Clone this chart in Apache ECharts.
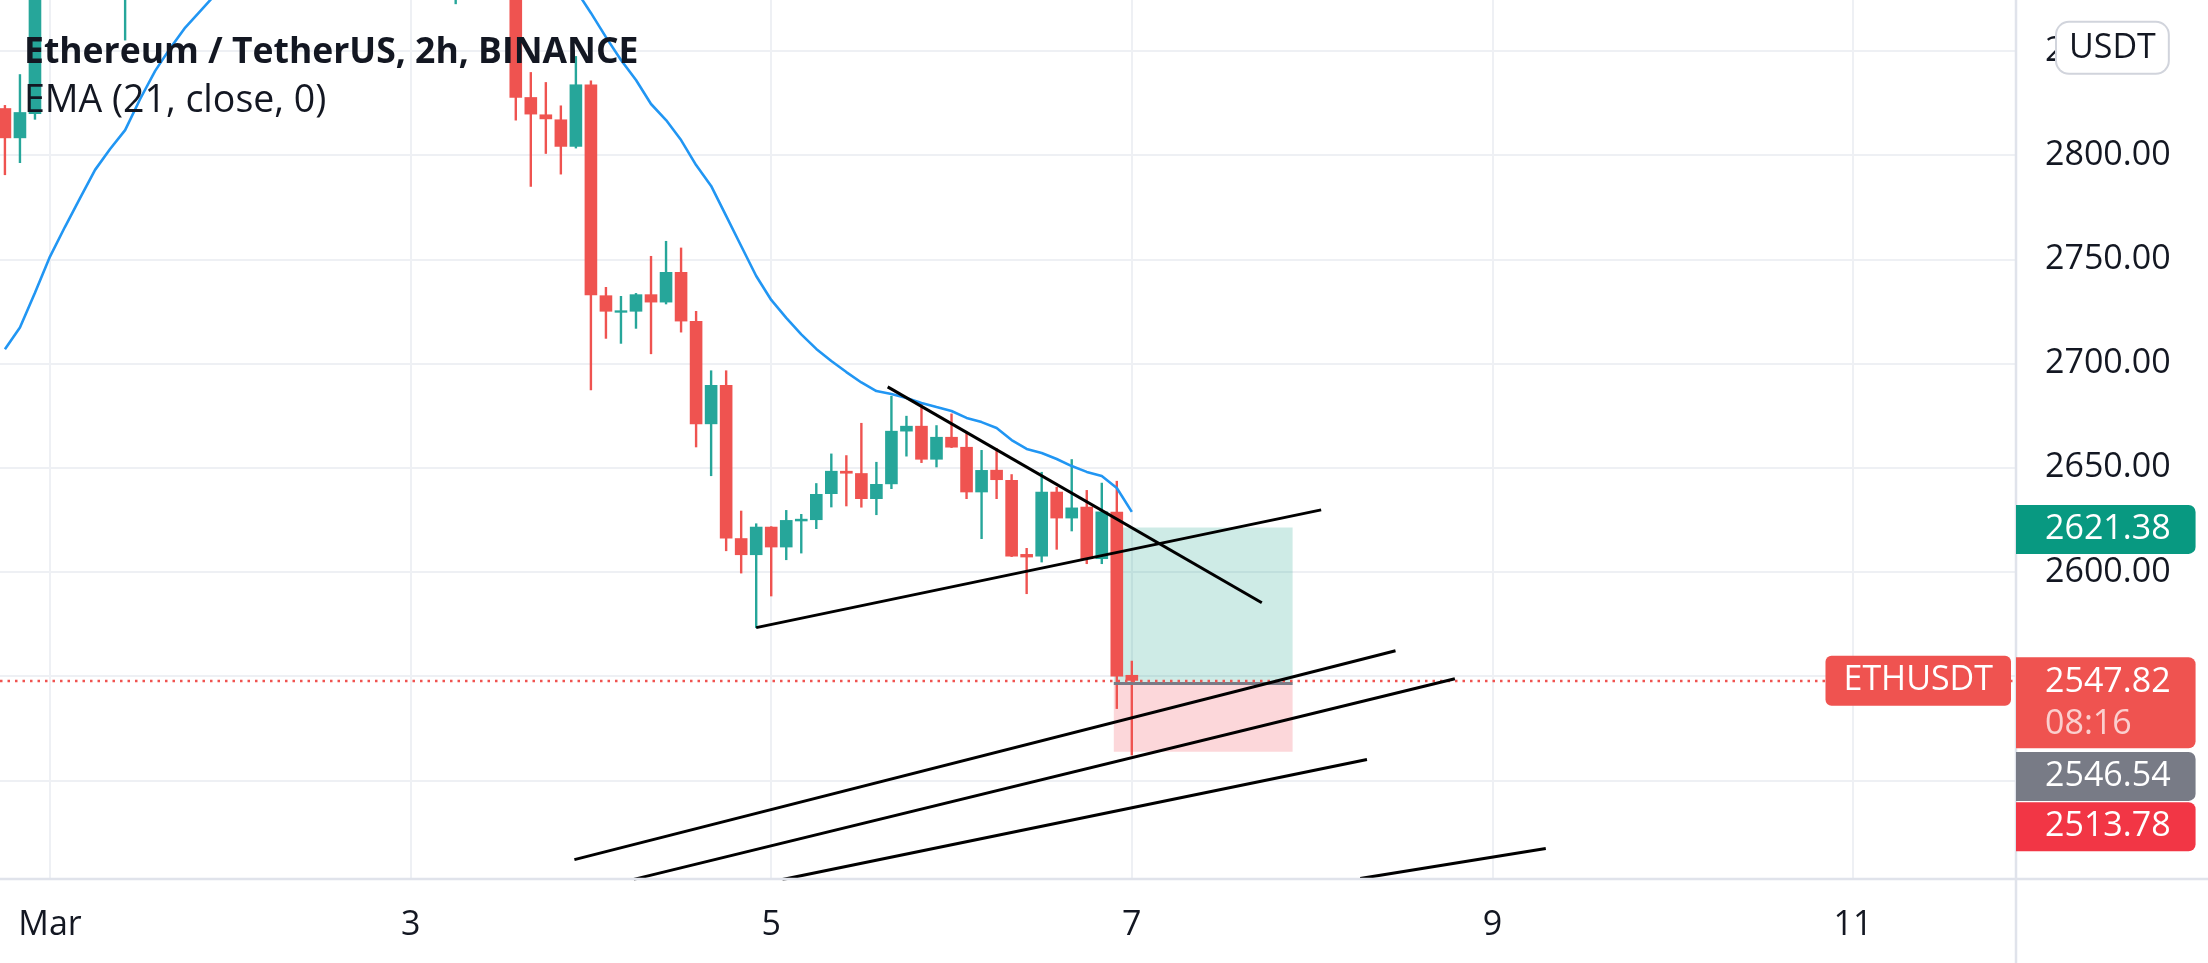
<!DOCTYPE html>
<html><head><meta charset="utf-8">
<script src="https://cdn.jsdelivr.net/npm/echarts@6/dist/echarts.min.js"></script>
<style>html,body{margin:0;padding:0;background:#fff}#c{width:2208px;height:963px}</style>
</head><body><div id="c"></div>
<script>
// ---------- DATA (hours since Mar 1 00:00, 2h bars) ----------
const TITLE = 'Ethereum / TetherUS, 2h, BINANCE';
const SUBTITLE = 'EMA (21, close, 0)';
const barHours = [-6,-4,-2,10,54,62,64,66,68,70,72,74,76,78,80,82,84,86,88,90,92,94,96,98,100,102,104,106,108,110,112,114,116,118,120,122,124,126,128,130,132,134,136,138,140,142,144];
const opens  = [2822.5,2808.1,2819.7,2885,2880,2884,2827.8,2819.5,2817.1,2804.0,2833.9,2732.7,2724.4,2724.9,2733.2,2729.3,2743.9,2720.4,2670.9,2689.7,2616.2,2608.1,2621.7,2611.8,2624.3,2624.9,2637.4,2648.5,2647.4,2635.0,2642.1,2667.4,2670.1,2653.9,2664.8,2660.0,2638.2,2649.0,2644.1,2608.6,2607.4,2638.5,2625.7,2631.3,2606.2,2628.9,2550.6];
const highs  = [2824.0,2838.8,2895,2915,2900,2889,2839.8,2835.0,2823.8,2847.5,2835.8,2736.7,2732.4,2733.8,2751.6,2758.8,2755.6,2725.2,2696.7,2696.7,2629.4,2623.3,2621.9,2629.7,2627.8,2642.6,2656.8,2656.0,2671.5,2652.8,2684.5,2674.9,2681.3,2670.4,2676.0,2666.9,2658.5,2659.4,2646.9,2611.5,2648.0,2640.8,2654.1,2639.3,2642.8,2643.7,2557.4];
const lows   = [2790.4,2796.2,2817.0,2855,2872.4,2816.6,2784.8,2800.6,2790.7,2803.2,2687.2,2711.9,2709.5,2716.7,2704.5,2728.4,2714.9,2659.8,2646.0,2610.0,2599.3,2573.1,2588.3,2605.7,2608.9,2620.6,2631.0,2631.5,2630.9,2627.3,2639.8,2655.4,2652.3,2650.2,2659.5,2635.0,2615.8,2635.0,2607.2,2589.4,2604.6,2610.7,2619.5,2603.8,2603.8,2534.3,2512.0];
const closes = [2808.1,2820.6,2885,2900,2892,2827.5,2819.5,2817.2,2804.0,2833.9,2732.7,2724.9,2725.5,2733.2,2729.3,2743.9,2720.2,2670.9,2689.7,2616.1,2608.1,2621.7,2611.8,2624.9,2625.5,2637.4,2648.5,2647.2,2635.0,2642.2,2667.7,2670.1,2653.9,2664.8,2659.7,2638.2,2648.9,2644.1,2607.4,2607.0,2638.5,2625.7,2630.9,2606.2,2629.0,2549.9,2547.82];
const emaHours  = [-6,-4,-2,0,2,4,6,8,10,12,14,16,18,20,22,null,70,72,74,76,78,80,82,84,86,88,90,92,94,96,98,100,102,104,106,108,110,112,114,116,118,120,122,124,126,128,130,132,134,136,138,140,142,144];
const emaValues = [2706.8,2717.3,2734.0,2751.3,2765.6,2779.3,2792.9,2802.9,2812.0,2826.9,2840.4,2851.3,2861.2,2869.1,2877.0,null,2879.2,2868.2,2856.6,2845.6,2836.0,2824.5,2816.8,2807.2,2795.2,2785.2,2770.8,2756.4,2742.0,2730.5,2721.9,2714.0,2707.0,2701.2,2695.9,2690.9,2686.8,2685.4,2683.5,2681.1,2679.1,2677.2,2673.9,2671.9,2669.1,2663.3,2659.0,2657.1,2654.2,2650.8,2648.0,2646.0,2640.3,2628.8];
// trend lines: [startHour, startPrice, endHour, endPrice]
const trendLines = [
  [111.5, 2688.8, 161.3, 2585.2],
  [94.0, 2573.3, 169.2, 2629.8],
  [69.8, 2462.0, 179.1, 2562.2],
  [77.7, 2452.5, 187.0, 2548.8],
  [97.5, 2452.5, 175.3, 2510.0],
  [174.4, 2452.9, 199.1, 2467.3]
];
const positionHours = [141.6, 165.4];
const targetPrice = 2621.38, entryPrice = 2546.54, stopPrice = 2513.78;
const lastPrice = 2547.82, countdown = '08:16';
const xTickHours = [0, 48, 96, 144, 192, 240];
const xTickLabels = ['Mar', '3', '5', '7', '9', '11'];
const yTicks = [2500, 2550, 2600, 2650, 2700, 2750, 2800, 2850];
const XMIN = -6.655, XMAX = 261.69, YMIN = 2452.7, YMAX = 2874.4;

// ---------- CHART ----------
const FONT = '"Open Sans", "Noto Sans", sans-serif';
const GREEN = '#26a69a', RED = '#ef5350', TXT = '#131722', GRID = '#eef0f4';
const candleData = barHours.map((h, i) => [h, opens[i], closes[i], lows[i], highs[i]]);
const emaData = emaHours.map((h, i) => h === null ? [null, null] : [h, emaValues[i]]);

function renderCandle(params, api) {
  const t = api.value(0), o = api.value(1), c = api.value(2), l = api.value(3), h = api.value(4);
  const pO = api.coord([t, o]), pC = api.coord([t, c]), pL = api.coord([t, l]), pH = api.coord([t, h]);
  const w = api.size([2, 0])[0] * 0.84;
  const col = c >= o ? GREEN : RED;
  const top = Math.min(pO[1], pC[1]);
  const hgt = Math.max(Math.abs(pO[1] - pC[1]), 2);
  return { type: 'group', children: [
    { type: 'rect', shape: { x: pO[0] - 1.2, y: pH[1], width: 2.4, height: pL[1] - pH[1] }, style: { fill: col } },
    { type: 'rect', shape: { x: pO[0] - w / 2, y: top, width: w, height: hgt }, style: { fill: col } }
  ]};
}

const tagLabel = (txt, bg, offY) => ({
  show: true, position: 'right', distance: 0, offset: [0, offY],
  formatter: txt, backgroundColor: bg, color: '#fff', fontFamily: FONT, fontSize: 34, lineHeight: 40,
  padding: [5, 25, 4, 29], borderRadius: [0, 7, 7, 0]
});

const series = [
  { // grid lines
    type: 'line', data: [], z: 0, silent: true,
    markLine: { z: 0, silent: true, symbol: 'none', animation: false, label: { show: false },
      lineStyle: { color: GRID, width: 2, type: 'solid' },
      data: xTickHours.map(v => ({ xAxis: v })).concat(yTicks.map(v => ({ yAxis: v }))) }
  },
  { // position boxes
    type: 'line', data: [], z: 1, silent: true,
    markArea: { z: 1, silent: true, data: [
      [{ coord: [positionHours[0], targetPrice], itemStyle: { color: 'rgba(8,153,129,0.2)' } }, { coord: [positionHours[1], entryPrice] }],
      [{ coord: [positionHours[0], entryPrice], itemStyle: { color: 'rgba(242,54,69,0.2)' } }, { coord: [positionHours[1], stopPrice] }]
    ]},
    markLine: { z: 3, silent: true, symbol: 'none', label: { show: false }, lineStyle: { color: '#787b86', width: 3, type: 'solid' },
      data: [[{ coord: [positionHours[0], entryPrice] }, { coord: [positionHours[1], entryPrice] }]] }
  },
  { type: 'custom', name: 'ETHUSDT', data: candleData, renderItem: renderCandle, clip: true, z: 2,
    encode: { x: 0, y: [1, 2, 3, 4] } },
  { type: 'line', name: 'EMA', data: emaData, showSymbol: false, connectNulls: false, z: 3,
    lineStyle: { color: '#2196f3', width: 2.6 }, clip: true },
  { // last price line
    type: 'line', data: [], z: 3, silent: true,
    markLine: { z: 3, silent: true, symbol: 'none', label: { show: false },
      lineStyle: { color: RED, width: 2.4, type: [2.5, 5] }, data: [{ yAxis: lastPrice }] }
  }
];
trendLines.forEach(l => series.push({
  type: 'line', data: [[l[0], l[1]], [l[2], l[3]]], showSymbol: false, z: 4, silent: true, clip: true,
  lineStyle: { color: '#000', width: 3 }
}));
series.push({ // axis tags
  type: 'line', data: [], z: 10, clip: false, silent: true,
  markPoint: { z: 10, symbol: 'rect', symbolSize: 0, silent: true, data: [
    { coord: [XMAX, targetPrice], label: tagLabel(targetPrice.toFixed(2), '#089981', 2) },
    { coord: [XMAX, entryPrice], label: tagLabel(entryPrice.toFixed(2), '#787b86', 93) },
    { coord: [XMAX, stopPrice], label: tagLabel(stopPrice.toFixed(2), '#f23645', 75) },
    { coord: [XMAX, lastPrice], label: {
        show: true, position: 'right', distance: 0, offset: [0, 22],
        formatter: '{a|' + lastPrice.toFixed(2) + '}\n{b|' + countdown + '}',
        backgroundColor: RED, padding: [4, 25, 3, 29], borderRadius: [0, 7, 7, 0],
        rich: { a: { color: '#fff', fontFamily: FONT, fontSize: 34, lineHeight: 42 },
                b: { color: 'rgba(255,255,255,0.72)', fontFamily: FONT, fontSize: 34, lineHeight: 42 } } } },
    { coord: [XMAX, lastPrice], label: {
        show: true, position: 'left', distance: 5, formatter: 'ETHUSDT',
        backgroundColor: RED, color: '#fff', fontFamily: FONT, fontSize: 34, lineHeight: 40,
        padding: [5, 18, 5, 18], borderRadius: 6 } },
    { coord: [XMAX, 2850], label: {
        show: true, position: 'right', distance: 41, offset: [0, -3], formatter: 'USDT',
        backgroundColor: '#fff', color: TXT, fontFamily: FONT, fontSize: 34, lineHeight: 40,
        borderColor: '#d1d4dc', borderWidth: 2, borderRadius: 12, padding: [5, 12, 5, 12] } }
  ]}
});

const option = {
  animation: false,
  backgroundColor: '#ffffff',
  textStyle: { fontFamily: FONT },
  title: { text: TITLE, subtext: SUBTITLE, left: 19, top: 27, itemGap: 5,
    textStyle: { fontSize: 35.5, fontWeight: 700, color: TXT, lineHeight: 42, fontFamily: FONT },
    subtextStyle: { fontSize: 37.5, color: TXT, lineHeight: 44, fontFamily: FONT } },
  grid: { left: 0, right: 192, top: 0, bottom: 84 },
  xAxis: { type: 'value', min: XMIN, max: XMAX,
    axisLine: { show: false }, axisTick: { show: false }, splitLine: { show: false },
    axisLabel: { customValues: xTickHours, fontSize: 34, color: TXT, fontFamily: FONT, margin: 46, verticalAlign: 'middle',
      formatter: v => xTickLabels[xTickHours.indexOf(v)] } },
  yAxis: { type: 'value', position: 'right', min: YMIN, max: YMAX,
    axisLine: { show: false }, axisTick: { show: false }, splitLine: { show: false },
    axisLabel: { customValues: yTicks, fontSize: 34, color: TXT, fontFamily: FONT, margin: 29, align: 'left',
      formatter: v => v.toFixed(2) } },
  graphic: [
    { type: 'line', z: 5, shape: { x1: 0, y1: 879, x2: 2208, y2: 879 }, style: { stroke: '#e0e3eb', lineWidth: 2.5 } },
    { type: 'line', z: 5, shape: { x1: 2016, y1: 0, x2: 2016, y2: 963 }, style: { stroke: '#e0e3eb', lineWidth: 2.5 } }
  ],
  series: series
};
const chart = echarts.init(document.getElementById('c'), null, { renderer: 'canvas' });
chart.setOption(option);
</script></body></html>
